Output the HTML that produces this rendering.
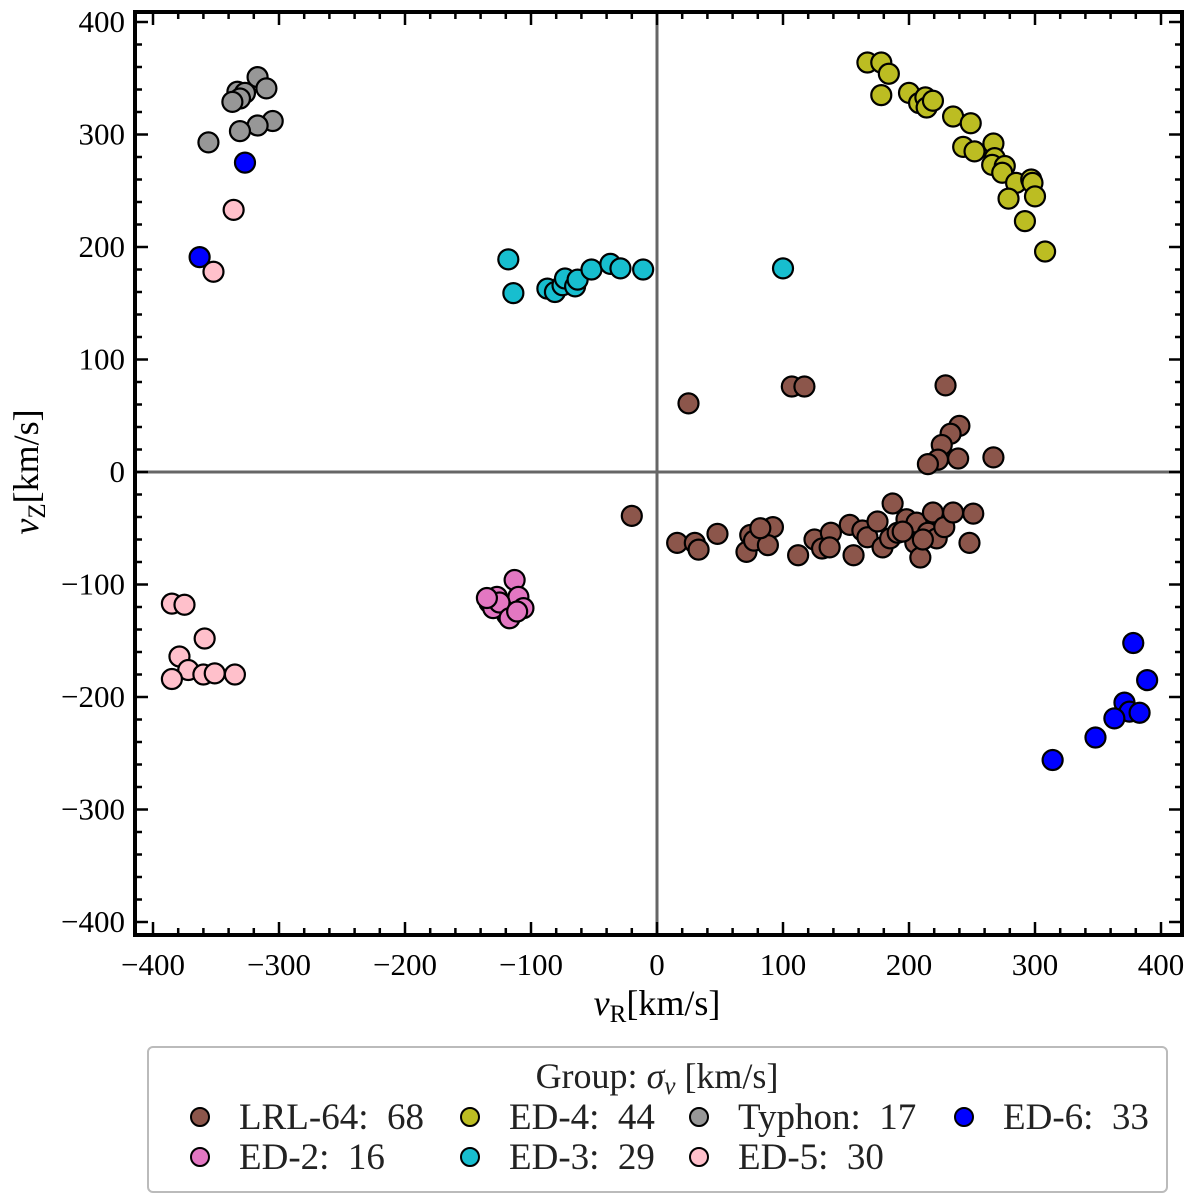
<!DOCTYPE html>
<html><head><meta charset="utf-8"><style>
html,body{margin:0;padding:0;background:#fff;}
svg{display:block;font-family:"Liberation Serif","DejaVu Serif",serif;}
</style></head><body>
<svg id="chart" width="1200" height="1201" viewBox="0 0 1200 1201">
<g id="plot"></g>
<g id="axes"></g>
<g id="legend"></g>
</svg>
<script>
const groupNames = ["LRL-64: 68","ED-2: 16","ED-4: 44","ED-3: 29","Typhon: 17","ED-5: 30","ED-6: 33"];
const groupColors = ["#8c564b","#e377c2","#bcbd22","#17becf","#979797","#ffc0cb","#0000ff"];
const lrlX = [25,107,117,229,240,233,226,239,267,223,215,-20,16,30,33,48,71,74,77,87,92,88,82,112,125,131,138,137,153,156,163,167,175,179,185,187,191,198,206,205,209,215,219,222,228,235,251,248,195,211];
const lrlY = [61,76,76,77,41,34,24,12,13,11,7,-39,-63,-63,-69,-55,-71,-56,-61,-52,-49,-65,-50,-74,-60,-68,-54,-67,-47,-74,-52,-58,-44,-67,-59,-28,-54,-42,-45,-63,-76,-54,-36,-59,-49,-36,-37,-63,-53,-60];
const ed4X = [167,178,184,178,200,208,213,214,219,235,249,243,252,267,268,266,276,274,285,297,298,300,279,292,308];
const ed4Y = [364,364,354,335,337,328,333,324,330,316,310,289,285,292,279,273,272,266,257,260,257,245,243,223,196];
const typhonX = [-317,-310,-333,-327,-331,-337,-305,-317,-331,-356];
const typhonY = [351,341,338,337,332,329,312,308,303,293];
const ed3X = [-118,-114,-87,-81,-75,-73,-65,-63,-52,-37,-29,-11,100];
const ed3Y = [189,159,163,160,166,172,165,171,180,185,181,180,181];
const ed2X = [-113,-127,-110,-133,-106,-119,-130,-125,-135,-117,-111];
const ed2Y = [-96,-111,-111,-116,-121,-127,-121,-116,-112,-130,-124];
const ed5X = [-336,-352,-385,-375,-359,-379,-372,-385,-360,-351,-335];
const ed5Y = [233,178,-117,-118,-148,-164,-176,-184,-180,-179,-180];
const ed6X = [-327,-363,378,389,371,375,383,363,348,314];
const ed6Y = [275,191,-152,-185,-205,-213,-214,-219,-236,-256];
const xTicks = [-400,-300,-200,-100,0,100,200,300,400];
const yTicks = [-400,-300,-200,-100,0,100,200,300,400];

const L=135,R=1182,T=12,B=935;
const X = v => 657 + v*1.26;
const Y = v => 472 - v*1.125;
const NS="http://www.w3.org/2000/svg";
function mk(tag, attrs, parent){const e=document.createElementNS(NS,tag);for(const k in attrs)e.setAttribute(k,attrs[k]);parent.appendChild(e);return e;}
const plot=document.getElementById('plot'), axes=document.getElementById('axes'), legend=document.getElementById('legend');

let zl=mk('line',{x1:X(0),x2:X(0),y1:T,y2:B,stroke:'#666','stroke-width':3},plot);


let zh=mk('line',{x1:L,x2:R,y1:Y(0),y2:Y(0),stroke:'#666','stroke-width':3},plot);



const series=[[lrlX,lrlY,0],[ed4X,ed4Y,2],[typhonX,typhonY,4],[ed3X,ed3Y,3],[ed2X,ed2Y,1],[ed5X,ed5Y,5],[ed6X,ed6Y,6]];
series.forEach(s=>{
  const g=mk('g',{},plot);
  
  
  s[0].forEach((xv,i)=>{
    const c=mk('circle',{cx:X(xv),cy:Y(s[1][i]),r:10,fill:groupColors[s[2]],stroke:'#000','stroke-width':2.2},g);
    
    
  });
});

let fr=mk('rect',{x:L,y:T,width:R-L,height:B-T,fill:'none',stroke:'#000','stroke-width':4},axes);


for(let v=-400; v<=400; v+=20){
  const major = v%100===0, len = major?13:7;
  const xp=X(v), yp=Y(v);
  mk('line',{x1:xp,x2:xp,y1:B,y2:B-len,stroke:'#000','stroke-width':2.5},axes);
  mk('line',{x1:xp,x2:xp,y1:T,y2:T+len,stroke:'#000','stroke-width':2.5},axes);
  mk('line',{x1:L,x2:L+len,y1:yp,y2:yp,stroke:'#000','stroke-width':2.5},axes);
  mk('line',{x1:R,x2:R-len,y1:yp,y2:yp,stroke:'#000','stroke-width':2.5},axes);
}
const fmt=v=>v<0?'\u2212'+(-v):''+v;
xTicks.forEach(v=>{
  const t=mk('text',{x:X(v),y:975,'text-anchor':'middle','font-size':31},axes);t.textContent=fmt(v);
  
  
});
yTicks.forEach(v=>{
  const t=mk('text',{x:125,y:Y(v)+10,'text-anchor':'end','font-size':31},axes);t.textContent=fmt(v);
  
  
});
let xt=mk('text',{x:657,y:1015,'text-anchor':'middle','font-size':36},axes);
xt.innerHTML='<tspan font-style="italic">v</tspan><tspan font-size="25" dy="7">R</tspan><tspan dy="-7">[km/s]</tspan>';


let yt=mk('text',{x:0,y:0,'text-anchor':'middle','font-size':36,transform:'translate(38,472) rotate(-90)'},axes);
yt.innerHTML='<tspan font-style="italic">v</tspan><tspan font-size="25" dy="7">Z</tspan><tspan dy="-7">[km/s]</tspan>';



let lb=mk('rect',{x:148,y:1047,width:1019,height:145,rx:5,fill:'#fff',stroke:'#bbb','stroke-width':2},legend);


let lt=mk('text',{x:657,y:1088,'text-anchor':'middle','font-size':36,fill:'#222'},legend);
lt.innerHTML='Group: <tspan font-style="italic">σ</tspan><tspan font-style="italic" font-size="25" dy="6">v</tspan><tspan dy="-6"> [km/s]</tspan>';


const colX=[200,470,699,964];
const order=[0,2,4,6,1,3,5];
order.forEach((gi,k)=>{
  const row=k<4?0:1, col=k<4?k:k-4;
  const cy=1117+row*40, cx=colX[col];
  const g=mk('g',{},legend);
  
  
  mk('circle',{cx:cx,cy:cy,r:9,fill:groupColors[gi],stroke:'#000','stroke-width':2},g);
  const t=mk('text',{x:cx+39,y:cy+12,'font-size':37,fill:'#222'},g);t.textContent=groupNames[gi].replace(': ',':\u00a0\u00a0');
});
</script>
</body></html>
